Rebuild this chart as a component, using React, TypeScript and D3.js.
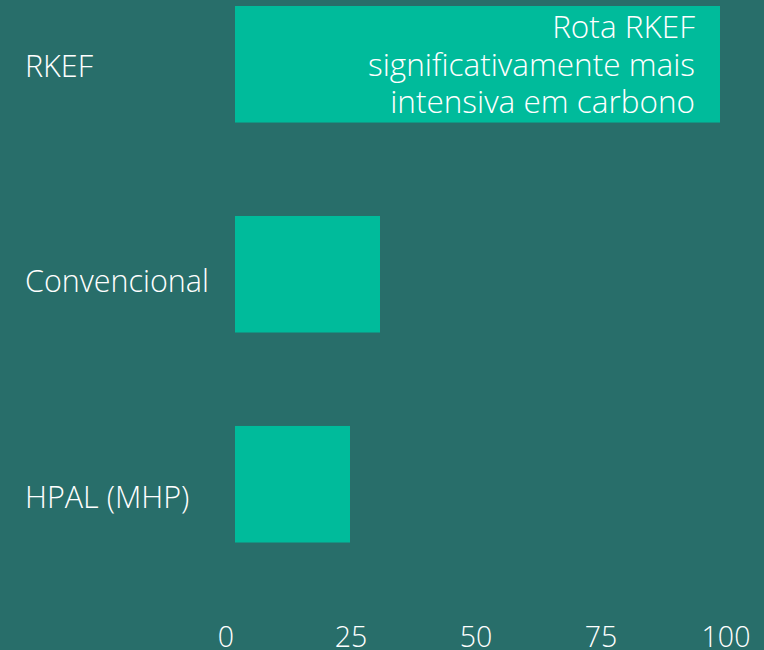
import React from "react";
import * as d3 from "d3";

const categories = ["RKEF", "Convencional", "HPAL (MHP)"];
const values = [97, 29, 23];
const ticks = [0, 25, 50, 75, 100];
const annotationLines = ["Rota RKEF", "significativamente mais", "intensiva em carbono"];

const W = 764;
const H = 650;
const BG = "#286e6a";
const BAR = "#00bb9b";
const TEXT = "#ffffff";
const FONT = "'Open Sans', 'Noto Sans', sans-serif";

export default function App() {
  const x = d3.scaleLinear().domain([0, 100]).range([235, 735]);
  const y = d3.scaleBand<string>().domain(categories).range([6, 542.5]).paddingInner(0.445).paddingOuter(0);
  const yLabel = d3.scalePoint<string>().domain(categories).range([66, 497]);
  const tickPos = d3.scaleLinear().domain([0, 100]).range([226, 726]);

  return (
    <svg
      width={W}
      height={H}
      style={{ position: "fixed", left: 0, top: 0, display: "block", background: BG }}
      fontFamily={FONT}
      fontWeight={300}
    >
      <rect x={0} y={0} width={W} height={H} fill={BG} />
      {categories.map((c, i) => (
        <g key={c}>
          <rect x={x(0)} y={y(c)} width={x(values[i]) - x(0)} height={y.bandwidth()} fill={BAR} />
          <text x={25} y={yLabel(c)} dy="0.35em" fill={TEXT} fontSize={30.5}>
            {c}
          </text>
        </g>
      ))}
      <text fill={TEXT} fontSize={31.5} textAnchor="end">
        {annotationLines.map((l, i) => (
          <tspan key={i} x={x(values[0]) - 25} y={38 + i * 37.5}>
            {l}
          </tspan>
        ))}
      </text>
      {ticks.map((t) => (
        <text key={t} x={tickPos(t)} y={647} fill={TEXT} fontSize={28.5} textAnchor="middle">
          {t}
        </text>
      ))}
    </svg>
  );
}
